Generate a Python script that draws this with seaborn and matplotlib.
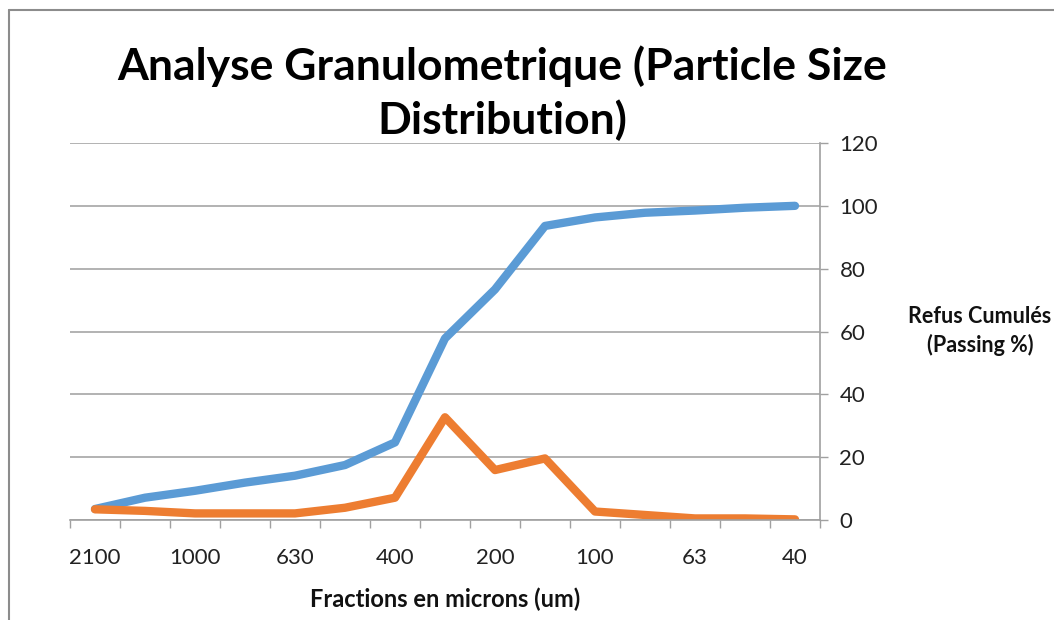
import numpy as np
import pandas as pd
import matplotlib
matplotlib.use("Agg")
import matplotlib.pyplot as plt
import seaborn as sns
from matplotlib.lines import Line2D

# ---- data ----
tick_labels = ["2100", "1000", "630", "400", "200", "100", "63", "40"]
n_points = 15
cumulative_passing = [3.5, 7.1, 9.3, 11.9, 14.1, 17.5, 24.7, 57.8, 73.4, 93.6, 96.3, 97.8, 98.5, 99.4, 100.0]
fraction_retained = [3.4, 2.9, 2.1, 2.1, 2.1, 3.9, 7.1, 32.7, 15.9, 19.6, 2.7, 1.6, 0.5, 0.5, 0.2]
series_names = ["Passing", "Retained"]
colors = ["#5B9BD5", "#ED7D31"]
title_lines = ["Analyse Granulometrique (Particle Size", "Distribution)"]

idx = list(range(n_points))
df = pd.DataFrame({
    "x": idx + idx,
    "value": cumulative_passing + fraction_retained,
    "series": [series_names[0]] * n_points + [series_names[1]] * n_points,
})

sns.set_theme(style="white")
plt.rcParams["font.family"] = ["Lato", "DejaVu Sans"]

fig = plt.figure(figsize=(10.54, 6.2), dpi=100)
ax = fig.add_axes([70 / 1054, 100 / 620, 750 / 1054, 377 / 620])

sns.lineplot(data=df, x="x", y="value", hue="series", palette=colors,
             linewidth=6, legend=False, ax=ax, solid_capstyle="round",
             solid_joinstyle="round")

ax.set_xlim(-0.5, n_points - 0.5)
ax.set_ylim(0, 120)

# y axis on the right
ax.yaxis.tick_right()
ax.set_yticks(np.arange(0, 121, 20))
ax.tick_params(axis="y", which="major", direction="out", length=6, width=1,
               color="#A0A0A0", labelsize=16, labelcolor="#222222", pad=8,
               right=True, left=False)
ax.yaxis.grid(True, color="#A6A6A6", linewidth=1.2)
ax.set_axisbelow(True)

# x axis: labels every other category, tick marks at category boundaries
ax.set_xticks(list(range(0, n_points, 2)))
ax.set_xticklabels(tick_labels)
ax.set_xticks(np.arange(-0.5, n_points, 1.0), minor=True)
ax.tick_params(axis="x", which="major", length=0, labelsize=16,
               labelcolor="#222222", pad=20)
ax.tick_params(axis="x", which="minor", direction="out", length=6, width=1,
               color="#A0A0A0", bottom=True)

for s in ["left", "top"]:
    ax.spines[s].set_visible(False)
for s in ["right", "bottom"]:
    ax.spines[s].set_color("#A0A0A0")
    ax.spines[s].set_linewidth(1.2)

ax.set_xlabel("Fractions en microns (um)", fontsize=17, fontweight="bold",
              color="#111111", labelpad=14)
ax.set_ylabel("")

fig.text(980 / 1054, 1 - 331 / 620, "Refus Cumulés\n(Passing %)", ha="center",
         va="center", fontsize=15.5, fontweight="bold", color="#111111",
         linespacing=1.35)

fig.text(502 / 1054, 1 - 66 / 620, title_lines[0],
         ha="center", va="center", fontsize=32, fontweight="bold",
         color="#000000")
fig.text(502 / 1054, 1 - 120 / 620, title_lines[1],
         ha="center", va="center", fontsize=32, fontweight="bold",
         color="#000000")

# outer chart border (top and left visible)
fig.add_artist(Line2D([9 / 1054, 1], [1 - 10 / 620, 1 - 10 / 620],
                      transform=fig.transFigure, color="#8C8C8C", linewidth=1.5))
fig.add_artist(Line2D([9 / 1054, 9 / 1054], [0, 1 - 10 / 620],
                      transform=fig.transFigure, color="#8C8C8C", linewidth=1.5))

fig.savefig("out.png", dpi=100, facecolor="white")
